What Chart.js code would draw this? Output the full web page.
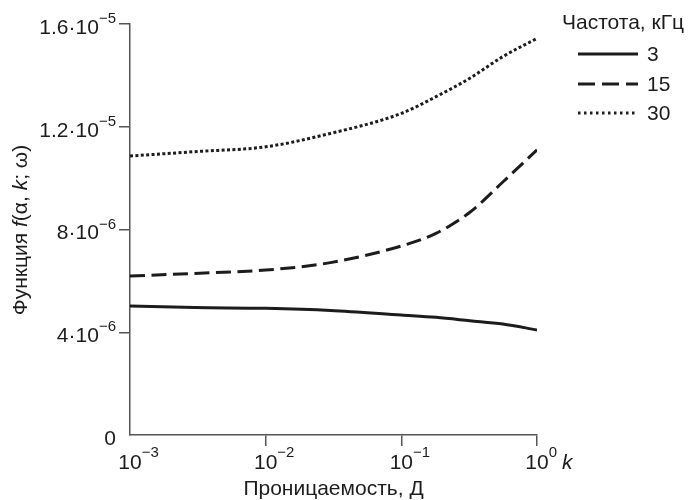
<!DOCTYPE html>
<html>
<head>
<meta charset="utf-8">
<script src="https://cdn.jsdelivr.net/npm/chart.js@4.4.0/dist/chart.umd.min.js"></script>
<style>
body{margin:0;background:#fff}
canvas{display:block}
</style>
</head>
<body>
<canvas id="chart" width="690" height="500"></canvas>
<script>
// permeability k, D (log axis) and f(a,k;w) for three frequencies
var permeability = [0.001, 0.003, 0.01, 0.03, 0.1, 0.18, 0.32, 0.56, 1]
var f3  = [5.02e-6, 4.96e-6, 4.93e-6, 4.85e-6, 4.67e-6, 4.58e-6, 4.45e-6, 4.32e-6, 4.09e-6]
var f15 = [6.19e-6, 6.29e-6, 6.42e-6, 6.71e-6, 7.36e-6, 7.85e-6, 8.67e-6, 9.85e-6, 1.11e-5]
var f30 = [1.086e-5, 1.103e-5, 1.122e-5, 1.174e-5, 1.252e-5, 1.317e-5, 1.389e-5, 1.473e-5, 1.544e-5]
var freqLabels = ['3', '15', '30']
var legendTitle = 'Частота, кГц'

var xTicks = [1e-3, 1e-2, 1e-1, 1]
var xTickExp = ['−3', '−2', '−1', '0']
var yTicks = [0, 4e-6, 8e-6, 1.2e-5, 1.6e-5]
var yTickBase = ['0', '4·10', '8·10', '1.2·10', '1.6·10']
var yTickExp = ['', '−6', '−6', '−5', '−5']
var xTitle = 'Проницаемость, Д'
var xUnit = 'k'
var yTitle = [['Функция ', false], ['f', true], ['(α, ', false], ['k', true], ['; ω)', false]]

var FONT = '"Liberation Sans", Arial, sans-serif'
var INK = '#1c1c1c'
var AXIS = '#555'
var BIG = '21px '
var SUP = '15px '

var legendDash = [[], [17, 7], [2.5, 3.5]]

var textPlugin = {
    id: 'texts',
    afterDraw: function(chart) {
        var ctx = chart.ctx
        var xs = chart.scales.x, ys = chart.scales.y
        ctx.save()
        ctx.fillStyle = INK
        ctx.textBaseline = 'middle'

        // y tick labels, right aligned
        for (var i = 0; i < yTicks.length; i++) {
            var py = ys.getPixelForValue(yTicks[i])
            var right = 116
            ctx.font = SUP + FONT
            var ew = yTickExp[i] ? ctx.measureText(yTickExp[i]).width : 0
            if (yTickExp[i]) {
                ctx.textAlign = 'right'
                ctx.fillText(yTickExp[i], right, py - 5)
            }
            ctx.font = BIG + FONT
            ctx.textAlign = 'right'
            ctx.fillText(yTickBase[i], right - ew, py + 4)
        }

        // x tick labels: "10" centred on tick, exponent to the right
        for (var j = 0; j < xTicks.length; j++) {
            var px = xs.getPixelForValue(xTicks[j])
            ctx.font = BIG + FONT
            ctx.textAlign = 'center'
            ctx.fillText('10', px, 463)
            var bw = ctx.measureText('10').width
            ctx.font = SUP + FONT
            ctx.textAlign = 'left'
            ctx.fillText(xTickExp[j], px + bw / 2, 453)
            if (j == xTicks.length - 1) {
                var ew2 = ctx.measureText(xTickExp[j]).width
                ctx.font = 'italic ' + BIG + FONT
                ctx.fillText(xUnit, px + bw / 2 + ew2 + 5, 463)
            }
        }

        // x title
        ctx.font = BIG + FONT
        ctx.textAlign = 'center'
        ctx.fillText(xTitle, (chart.chartArea.left + chart.chartArea.right) / 2, 489)

        // y title, rotated, mixed italic
        ctx.save()
        ctx.translate(21, 230)
        ctx.rotate(-Math.PI / 2)
        var total = 0
        yTitle.forEach(function(p) {
            ctx.font = (p[1] ? 'italic ' : '') + BIG + FONT
            total += ctx.measureText(p[0]).width
        })
        var cx = -total / 2
        ctx.textAlign = 'left'
        yTitle.forEach(function(p) {
            ctx.font = (p[1] ? 'italic ' : '') + BIG + FONT
            ctx.fillText(p[0], cx, 0)
            cx += ctx.measureText(p[0]).width
        })
        ctx.restore()

        // legend
        ctx.font = BIG + FONT
        ctx.textAlign = 'left'
        ctx.fillText(legendTitle, 562, 23)
        var rows = [54, 84, 113]
        chart.data.datasets.forEach(function(ds, k) {
            ctx.save()
            ctx.strokeStyle = ds.borderColor
            ctx.lineWidth = 3
            ctx.setLineDash(legendDash[k])
            ctx.beginPath()
            ctx.moveTo(578, rows[k])
            ctx.lineTo(638, rows[k])
            ctx.stroke()
            ctx.restore()
            ctx.fillText(ds.label, 647, rows[k] + 1)
        })
        ctx.restore()
    }
}

function pts(ys) {
    return permeability.map(function(k, i) { return {x: k, y: ys[i]} })
}

var ctx = document.getElementById('chart').getContext('2d')
var myChart = new Chart(ctx, {
    type: 'line',
    data: {
        datasets: [{
            label: freqLabels[0],
            data: pts(f3),
            borderColor: INK,
            borderWidth: 3
        }, {
            label: freqLabels[1],
            data: pts(f15),
            borderColor: INK,
            borderWidth: 3,
            borderDash: [15, 6.5]
        }, {
            label: freqLabels[2],
            data: pts(f30),
            borderColor: INK,
            borderWidth: 3,
            borderDash: [3, 2.4]
        }]
    },
    options: {
        responsive: false,
        animation: false,
        devicePixelRatio: 1,
        layout: { padding: { left: 0, top: 24, right: 153, bottom: 0 } },
        elements: {
            point: { radius: 0 },
            line: { tension: 0.4, cubicInterpolationMode: 'monotone', borderCapStyle: 'butt' }
        },
        plugins: {
            legend: { display: false },
            tooltip: { enabled: false }
        },
        scales: {
            x: {
                type: 'logarithmic',
                min: 1e-3,
                max: 1,
                afterBuildTicks: function(s) { s.ticks = xTicks.map(function(v) { return {value: v} }) },
                afterFit: function(s) { s.height = 65 },
                ticks: { display: false },
                border: { color: AXIS, width: 1.5 },
                grid: {
                    drawOnChartArea: false,
                    tickLength: 11,
                    lineWidth: 1.5,
                    color: function(c) { return c.tick && c.tick.value == xTicks[0] ? 'rgba(0,0,0,0)' : AXIS }
                }
            },
            y: {
                min: 0,
                max: 1.6e-5,
                afterBuildTicks: function(s) { s.ticks = yTicks.map(function(v) { return {value: v} }) },
                afterFit: function(s) { s.width = 130 },
                ticks: { display: false },
                border: { color: AXIS, width: 1.5 },
                grid: {
                    drawOnChartArea: false,
                    tickLength: 11,
                    lineWidth: 1.5,
                    color: function(c) { return c.tick && c.tick.value == 0 ? 'rgba(0,0,0,0)' : AXIS }
                }
            }
        }
    },
    plugins: [textPlugin]
})
</script>
</body>
</html>
